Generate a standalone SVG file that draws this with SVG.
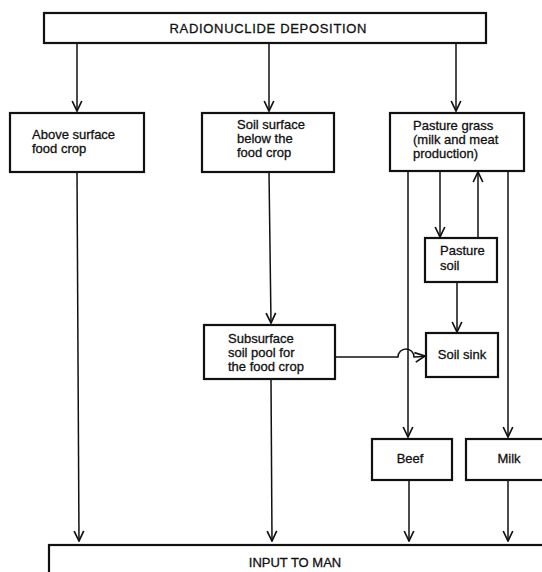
<svg xmlns="http://www.w3.org/2000/svg" width="542" height="572" viewBox="0 0 542 572">
  <defs>
    <marker id="arrow" viewBox="0 0 12 12" refX="11" refY="6" markerWidth="12" markerHeight="12" markerUnits="userSpaceOnUse" orient="auto">
      <path d="M1,1.2 L11,6 L1,10.8" fill="none" stroke="#111" stroke-width="1.7"/>
    </marker>
  </defs>
  <style>
    .box { fill: #fff; stroke: #111; stroke-width: 2.2; }
    .lbl { font-family: "Liberation Sans", Arial, sans-serif; font-size: 13px; fill: #111; stroke: #111; stroke-width: 0.3; }
    .mid { text-anchor: middle; }
    .wire { fill: none; stroke: #111; stroke-width: 1.5; }
    .arr { marker-end: url(#arrow); }
  </style>
  <rect width="542" height="572" fill="#fff"/>

  <!-- connectors -->
  <g id="connectors">
    <!-- deposition to the three receiving compartments -->
    <line class="wire arr" x1="77" y1="43" x2="77" y2="111"/>
    <line class="wire arr" x1="269" y1="43" x2="269" y2="111"/>
    <line class="wire arr" x1="456" y1="43" x2="456" y2="111"/>
    <!-- food crop chain -->
    <line class="wire arr" x1="77" y1="172" x2="79" y2="541"/>
    <line class="wire arr" x1="269" y1="172" x2="271" y2="323"/>
    <line class="wire arr" x1="271" y1="379" x2="272" y2="541"/>
    <!-- subsurface pool to soil sink, hopping over the beef line -->
    <path class="wire arr" d="M335,357 L398,357 A8,8 0 0 1 414,357 Q418,357 425,356"/>
    <!-- pasture loop -->
    <line class="wire arr" x1="440" y1="172" x2="440" y2="237"/>
    <line class="wire arr" x1="478" y1="238" x2="478" y2="172"/>
    <line class="wire arr" x1="457" y1="282" x2="457" y2="332"/>
    <!-- pasture to animal products -->
    <line class="wire arr" x1="408" y1="172" x2="408" y2="437"/>
    <line class="wire arr" x1="508" y1="172" x2="508" y2="437"/>
    <line class="wire arr" x1="409" y1="480" x2="409" y2="541"/>
    <line class="wire arr" x1="508" y1="480" x2="508" y2="541"/>
  </g>

  <g id="deposition">
    <rect class="box" x="44" y="13" width="442" height="30"/>
    <text class="lbl mid" x="268" y="33" textLength="197">RADIONUCLIDE DEPOSITION</text>
  </g>

  <g id="above-surface-crop">
    <rect class="box" x="10" y="113" width="134" height="59"/>
    <text class="lbl" x="32" y="139">Above surface</text>
    <text class="lbl" x="32" y="153">food crop</text>
  </g>

  <g id="soil-surface">
    <rect class="box" x="202" y="113" width="132" height="59"/>
    <text class="lbl" x="237" y="129">Soil surface</text>
    <text class="lbl" x="237" y="143">below the</text>
    <text class="lbl" x="237" y="157">food crop</text>
  </g>

  <g id="pasture-grass">
    <rect class="box" x="390" y="113" width="134" height="58"/>
    <text class="lbl" x="413" y="130">Pasture grass</text>
    <text class="lbl" x="413" y="144">(milk and meat</text>
    <text class="lbl" x="413" y="158">production)</text>
  </g>

  <g id="pasture-soil">
    <rect class="box" x="425" y="238" width="72" height="44"/>
    <text class="lbl" x="440" y="255">Pasture</text>
    <text class="lbl" x="440" y="270">soil</text>
  </g>

  <g id="subsurface-pool">
    <rect class="box" x="204" y="325" width="131" height="54"/>
    <text class="lbl" x="228" y="343">Subsurface</text>
    <text class="lbl" x="228" y="357">soil pool for</text>
    <text class="lbl" x="228" y="371">the food crop</text>
  </g>

  <g id="soil-sink">
    <rect class="box" x="426" y="333" width="72" height="44"/>
    <text class="lbl mid" x="462" y="359">Soil sink</text>
  </g>

  <g id="beef">
    <rect class="box" x="372" y="439" width="80" height="41"/>
    <text class="lbl mid" x="410" y="463">Beef</text>
  </g>

  <g id="milk">
    <rect class="box" x="466" y="439" width="80" height="41"/>
    <text class="lbl mid" x="509" y="463">Milk</text>
  </g>

  <g id="input-to-man">
    <rect class="box" x="49" y="545" width="500" height="40"/>
    <text class="lbl mid" x="295" y="567">INPUT TO MAN</text>
  </g>
</svg>
